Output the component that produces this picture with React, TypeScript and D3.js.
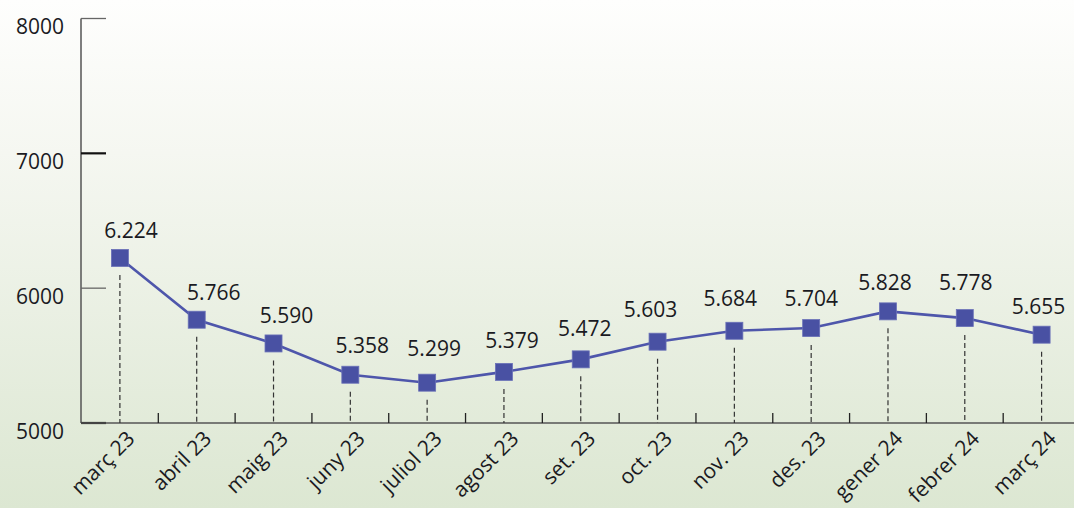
import * as d3 from "d3";

const months = [
  "març 23", "abril 23", "maig 23", "juny 23", "juliol 23", "agost 23", "set. 23",
  "oct. 23", "nov. 23", "des. 23", "gener 24", "febrer 24", "març 24",
];
const values = [6224, 5766, 5590, 5358, 5299, 5379, 5472, 5603, 5684, 5704, 5828, 5778, 5655];
const yTicks = [5000, 6000, 7000, 8000];
// hand-placed value label nudges, as in the original
const labelDx = [11, 17, 13, 12, 7, 8, 4, -7, -4, 0, -3, 1, -3];
const labelDy = [-20, -20, -20, -22, -27, -24, -23, -25, -25, -22, -21, -28, -21];

const W = 1074;
const H = 508;
const font = "'Open Sans', sans-serif";
const fmt = (v: number) => d3.format(",.0f")(v).replace(",", ".");

export default function App() {
  const x = d3.scaleBand<string>().domain(months).range([81.5, 1080]);
  const y = d3.scaleLinear().domain([5000, 8000]).range([423, 18.5]);
  const cx = (m: string) => (x(m) ?? 0) + x.bandwidth() / 2;

  const line = d3
    .line<number>()
    .x((_, i) => cx(months[i]))
    .y((d) => y(d));

  return (
    <svg
      width={W}
      height={H}
      style={{ position: "absolute", left: 0, top: 0, display: "block" }}
      fontFamily={font}
    >
      <defs>
        <linearGradient id="bg" x1="0" y1="0" x2="0" y2="1">
          <stop offset="0" stopColor="#fefefd" />
          <stop offset="0.3" stopColor="#f5f7f1" />
          <stop offset="1" stopColor="#dce7d2" />
        </linearGradient>
      </defs>
      <rect width={W} height={H} fill="url(#bg)" />

      {/* y axis */}
      <line x1={81} x2={81} y1={y(8000)} y2={y(5000)} stroke="#555" strokeWidth={1.5} />
      {yTicks.map((t) => (
        <g key={t}>
          <line
            x1={81}
            x2={106}
            y1={y(t)}
            y2={y(t)}
            stroke={t % 2000 === 0 ? "#666" : "#111"}
            strokeWidth={t % 2000 === 0 ? 1.3 : 2.2}
          />
          <text x={64} y={y(t) + 15.5} textAnchor="end" fontSize={21} fill="#1a1a22">
            {t}
          </text>
        </g>
      ))}

      {/* x axis */}
      <line x1={81} x2={W} y1={423} y2={423} stroke="#555" strokeWidth={1.5} />
      {months.slice(1).map((m) => (
        <line
          key={"t" + m}
          x1={x(m) ?? 0}
          x2={x(m) ?? 0}
          y1={413}
          y2={423}
          stroke="#222"
          strokeWidth={1.3}
        />
      ))}

      {/* drop lines */}
      {values.map((v, i) => (
        <line
          key={"d" + i}
          x1={cx(months[i])}
          x2={cx(months[i])}
          y1={y(v) + 17}
          y2={423}
          stroke="#333"
          strokeWidth={1.2}
          strokeDasharray="5,3"
        />
      ))}

      <path d={line(values) ?? ""} fill="none" stroke="#4e56ab" strokeWidth={2.6} />

      {values.map((v, i) => (
        <g key={"p" + i}>
          <rect
            x={cx(months[i]) - 8.5}
            y={y(v) - 8.5}
            width={17}
            height={17}
            fill="#4951a3"
            stroke="#6a71b8"
            strokeWidth={0.8}
          />
          <text
            x={cx(months[i]) + labelDx[i]}
            y={y(v) + labelDy[i]}
            textAnchor="middle"
            fontSize={21}
            fill="#1a1a22"
          >
            {fmt(v)}
          </text>
        </g>
      ))}

      {months.map((m) => (
        <text
          key={"l" + m}
          transform={`translate(${cx(m) + 16},${440}) rotate(-45)`}
          textAnchor="end"
          fontSize={21}
          fill="#1a1a22"
        >
          {m}
        </text>
      ))}
    </svg>
  );
}
